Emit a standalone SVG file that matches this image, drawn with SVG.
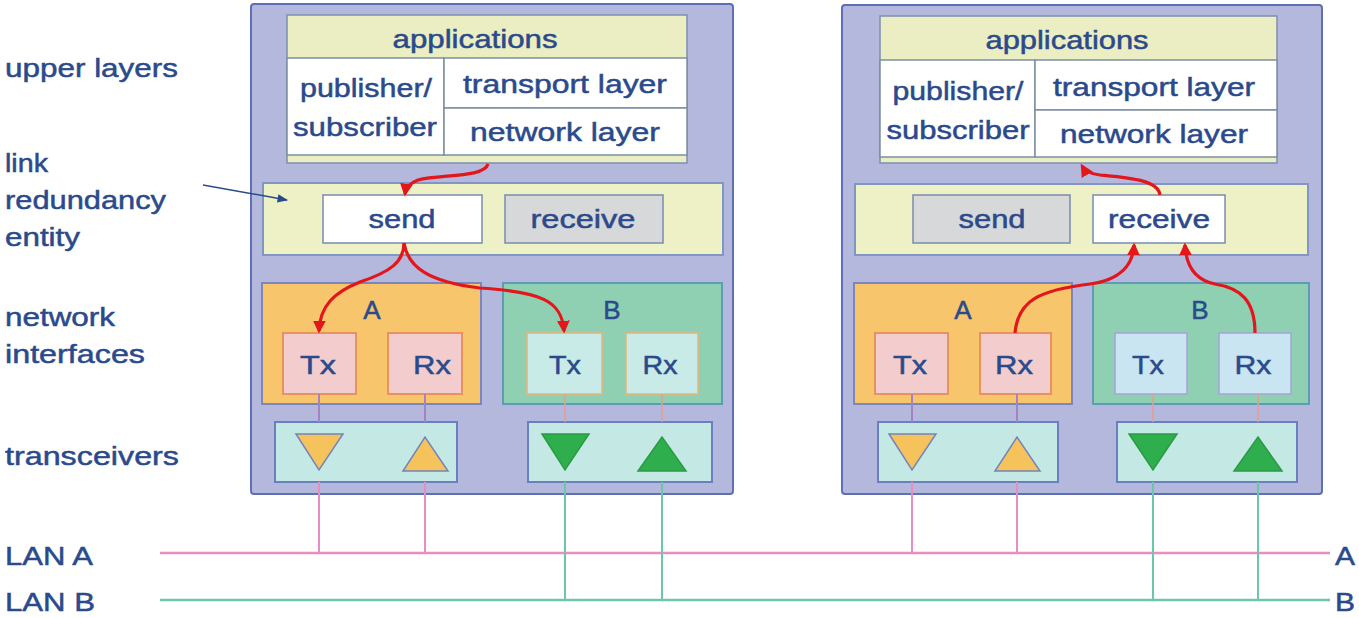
<svg xmlns="http://www.w3.org/2000/svg" width="1359" height="618" viewBox="0 0 1359 618">
<style>
text{font-family:"Liberation Sans",Arial,sans-serif;fill:#2b4a8c;font-size:26px;stroke:#2b4a8c;stroke-width:0.5}
.c{text-anchor:middle}
.outer{fill:#b5b8dd;stroke:#5f6fb5;stroke-width:2}
.hdr{fill:#eaeec2;stroke:#7d8fb0;stroke-width:1.5}
.cell{fill:#fff;stroke:#7d8fa0;stroke-width:1.5}
.lrd{fill:#eef0c6;stroke:#8296c4;stroke-width:2}
.on{fill:#fff;stroke:#7a8cb0;stroke-width:1.5}
.off{fill:#d6d8da;stroke:#7a8cb0;stroke-width:1.5}
.nia{fill:#f6c56c;stroke:#7d86bc;stroke-width:2}
.nib{fill:#8fd0b2;stroke:#5f9cb6;stroke-width:2}
.pa{fill:#f3cdcd;stroke:#e8925e;stroke-width:2}
.pb{fill:#c9ebe7;stroke:#e9b47a;stroke-width:1.5}
.pb2{fill:#c9e5f2;stroke:#a6a3d8;stroke-width:1.5}
.trx{fill:#c4e8e4;stroke:#6a7ec2;stroke-width:2}
.ta{fill:#f6c25c;stroke:#7384bc;stroke-width:1.5}
.tb{fill:#2fae4e;stroke:#2a9a44;stroke-width:1.5}
.red{fill:none;stroke:#e3161c;stroke-width:3.2;marker-end:url(#ah)}
.la{stroke:#e88cc2;stroke-width:2.5}
.lb{stroke:#6cc6ae;stroke-width:2.5}
.va{stroke:#a284c6;stroke-width:2}
.vb{stroke:#e99c8e;stroke-width:1.5}
</style>
<defs>
<marker id="ah" viewBox="0 0 10 10" refX="8" refY="5" markerWidth="4" markerHeight="4" orient="auto" markerUnits="strokeWidth">
<path d="M0,0 L10,5 L0,10 z" fill="#e3161c"/>
</marker>
<marker id="ab" viewBox="0 0 10 10" refX="9" refY="5" markerWidth="7" markerHeight="7" orient="auto" markerUnits="strokeWidth">
<path d="M0,1 L10,5 L0,9 z" fill="#2b4a8c"/>
</marker>
</defs>

<g id="labels">
<text x="5" y="77" textLength="173" lengthAdjust="spacingAndGlyphs">upper layers</text>
<text x="5" y="172" textLength="43" lengthAdjust="spacingAndGlyphs">link</text>
<text x="5" y="209" textLength="161" lengthAdjust="spacingAndGlyphs">redundancy</text>
<text x="5" y="246" textLength="75" lengthAdjust="spacingAndGlyphs">entity</text>
<text x="5" y="326" textLength="110" lengthAdjust="spacingAndGlyphs">network</text>
<text x="5" y="363" textLength="140" lengthAdjust="spacingAndGlyphs">interfaces</text>
<text x="5" y="465" textLength="174" lengthAdjust="spacingAndGlyphs">transceivers</text>
<text x="5" y="565" textLength="88" lengthAdjust="spacingAndGlyphs">LAN A</text>
<text x="5" y="611" textLength="90" lengthAdjust="spacingAndGlyphs">LAN B</text>
<text x="1335" y="565" textLength="20" lengthAdjust="spacingAndGlyphs">A</text>
<text x="1335" y="611" textLength="20" lengthAdjust="spacingAndGlyphs">B</text>
</g>

<g id="node-left">
<rect class="outer" x="251" y="4" width="482" height="490" rx="3"/>
<rect class="hdr" x="287" y="15" width="400" height="148"/>
<rect class="cell" x="287" y="58" width="157" height="97"/>
<rect class="cell" x="444" y="58" width="243" height="50"/>
<rect class="cell" x="444" y="108" width="243" height="47"/>
<text class="c" x="475" y="48" textLength="165" lengthAdjust="spacingAndGlyphs">applications</text>
<text class="c" x="366" y="97" textLength="132" lengthAdjust="spacingAndGlyphs">publisher/</text>
<text class="c" x="365" y="136" textLength="144" lengthAdjust="spacingAndGlyphs">subscriber</text>
<text class="c" x="565" y="93" textLength="204" lengthAdjust="spacingAndGlyphs">transport layer</text>
<text class="c" x="565" y="141" textLength="190" lengthAdjust="spacingAndGlyphs">network layer</text>
<rect class="lrd" x="263" y="183" width="460" height="72"/>
<rect class="on" x="323" y="195" width="159" height="48"/>
<rect class="off" x="505" y="195" width="158" height="48"/>
<text class="c" x="402" y="228" textLength="67" lengthAdjust="spacingAndGlyphs">send</text>
<text class="c" x="583" y="228" textLength="105" lengthAdjust="spacingAndGlyphs">receive</text>
<rect class="nia" x="262" y="283" width="219" height="121"/>
<rect class="nib" x="503" y="283" width="219" height="121"/>
<text class="c" x="372" y="319">A</text>
<text class="c" x="612" y="319">B</text>
<rect class="pa" x="283" y="333" width="73" height="61"/>
<rect class="pa" x="388" y="333" width="74" height="61"/>
<rect class="pb" x="527" y="333" width="75" height="61"/>
<rect class="pb" x="626" y="333" width="72" height="61"/>
<text class="c" x="318" y="374" textLength="36" lengthAdjust="spacingAndGlyphs">Tx</text>
<text class="c" x="432" y="374" textLength="38" lengthAdjust="spacingAndGlyphs">Rx</text>
<text class="c" x="565" y="374" textLength="32" lengthAdjust="spacingAndGlyphs">Tx</text>
<text class="c" x="660" y="374" textLength="35" lengthAdjust="spacingAndGlyphs">Rx</text>
<rect class="trx" x="275" y="422" width="182" height="60"/>
<rect class="trx" x="528" y="422" width="184" height="60"/>
<polygon class="ta" points="296,434 343,434 319,470"/>
<polygon class="ta" points="403,471 448,471 425,437"/>
<polygon class="tb" points="542,434 589,434 565,470"/>
<polygon class="tb" points="638,471 686,471 662,437"/>
</g>

<g id="node-right">
<rect class="outer" x="842" y="5" width="480" height="489" rx="3"/>
<rect class="hdr" x="880" y="16" width="397" height="147"/>
<rect class="cell" x="880" y="60" width="155" height="97"/>
<rect class="cell" x="1035" y="60" width="242" height="50"/>
<rect class="cell" x="1035" y="110" width="242" height="47"/>
<text class="c" x="1067" y="49" textLength="163" lengthAdjust="spacingAndGlyphs">applications</text>
<text class="c" x="958" y="100" textLength="131" lengthAdjust="spacingAndGlyphs">publisher/</text>
<text class="c" x="958" y="139" textLength="143" lengthAdjust="spacingAndGlyphs">subscriber</text>
<text class="c" x="1154" y="96" textLength="202" lengthAdjust="spacingAndGlyphs">transport layer</text>
<text class="c" x="1154" y="143" textLength="188" lengthAdjust="spacingAndGlyphs">network layer</text>
<rect class="lrd" x="855" y="184" width="453" height="71"/>
<rect class="off" x="913" y="195" width="157" height="48"/>
<rect class="on" x="1093" y="195" width="132" height="48"/>
<text class="c" x="992" y="228" textLength="67" lengthAdjust="spacingAndGlyphs">send</text>
<text class="c" x="1159" y="228" textLength="102" lengthAdjust="spacingAndGlyphs">receive</text>
<rect class="nia" x="854" y="283" width="218" height="121"/>
<rect class="nib" x="1093" y="283" width="216" height="121"/>
<text class="c" x="963" y="319">A</text>
<text class="c" x="1200" y="319">B</text>
<rect class="pa" x="875" y="333" width="73" height="61"/>
<rect class="pa" x="980" y="333" width="71" height="61"/>
<rect class="pb2" x="1115" y="333" width="72" height="61"/>
<rect class="pb2" x="1219" y="333" width="72" height="61"/>
<text class="c" x="910" y="374" textLength="34" lengthAdjust="spacingAndGlyphs">Tx</text>
<text class="c" x="1014" y="374" textLength="38" lengthAdjust="spacingAndGlyphs">Rx</text>
<text class="c" x="1148" y="374" textLength="32" lengthAdjust="spacingAndGlyphs">Tx</text>
<text class="c" x="1253" y="374" textLength="37" lengthAdjust="spacingAndGlyphs">Rx</text>
<rect class="trx" x="878" y="422" width="180" height="60"/>
<rect class="trx" x="1117" y="422" width="180" height="60"/>
<polygon class="ta" points="889,434 936,434 912,470"/>
<polygon class="ta" points="995,471 1040,471 1017,437"/>
<polygon class="tb" points="1129,434 1177,434 1153,470"/>
<polygon class="tb" points="1234,471 1282,471 1258,437"/>
</g>

<g id="connectors">
<line class="la" x1="160" y1="553" x2="1330" y2="553"/>
<line class="lb" x1="160" y1="600" x2="1330" y2="600"/>
<line class="va" x1="319" y1="394" x2="319" y2="422"/>
<line class="va" x1="425" y1="394" x2="425" y2="422"/>
<line class="vb" x1="565" y1="394" x2="565" y2="422"/>
<line class="vb" x1="662" y1="394" x2="662" y2="422"/>
<line class="va" x1="912" y1="394" x2="912" y2="422"/>
<line class="va" x1="1017" y1="394" x2="1017" y2="422"/>
<line class="vb" x1="1153" y1="394" x2="1153" y2="422"/>
<line class="vb" x1="1258" y1="394" x2="1258" y2="422"/>
<line class="la" x1="319" y1="482" x2="319" y2="553" style="stroke-width:2"/>
<line class="la" x1="425" y1="482" x2="425" y2="553" style="stroke-width:2"/>
<line class="la" x1="912" y1="482" x2="912" y2="553" style="stroke-width:2"/>
<line class="la" x1="1017" y1="482" x2="1017" y2="553" style="stroke-width:2"/>
<line class="lb" x1="565" y1="482" x2="565" y2="600" style="stroke-width:2"/>
<line class="lb" x1="662" y1="482" x2="662" y2="600" style="stroke-width:2"/>
<line class="lb" x1="1153" y1="482" x2="1153" y2="600" style="stroke-width:2"/>
<line class="lb" x1="1258" y1="482" x2="1258" y2="600" style="stroke-width:2"/>
<path class="red" d="M488,164 C484,178 440,174 418,180 C410,183 406,187 405,194"/>
<path class="red" d="M404,243 C404,262 390,272 360,282 C335,292 320,305 319,331"/>
<path class="red" d="M404,243 C408,268 430,282 480,288 C540,292 562,300 564,331"/>
<path class="red" d="M1015,333 C1018,300 1040,290 1090,284 C1120,280 1133,265 1134,245"/>
<path class="red" d="M1255,333 C1255,300 1240,288 1215,284 C1195,280 1186,265 1185,245"/>
<path class="red" d="M1160,195 C1158,180 1130,178 1100,175 C1090,174 1085,171 1082,166"/>
<line x1="203" y1="185" x2="287" y2="200" stroke="#2b4a8c" stroke-width="1.5" marker-end="url(#ab)"/>
</g>
</svg>
